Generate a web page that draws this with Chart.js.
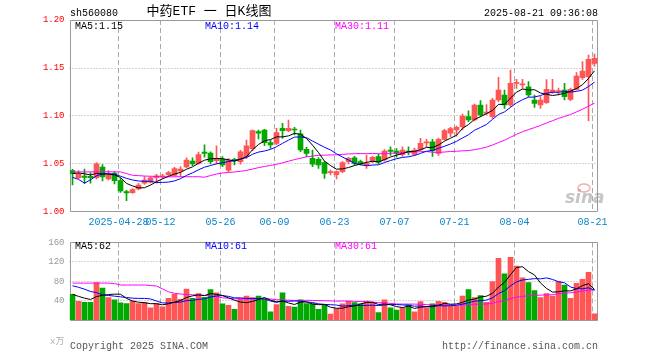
<!DOCTYPE html>
<html>
<head>
<meta charset="utf-8">
<script src="https://cdn.jsdelivr.net/npm/chart.js@4.4.1/dist/chart.umd.min.js"></script>
<style>
  html, body { margin: 0; padding: 0; background: #fff; }
  #wrap { position: relative; width: 660px; height: 360px; }
  #wrap canvas { position: absolute; left: 0; }
</style>
</head>
<body>
<div id="wrap">
  <canvas id="kline" width="660" height="232" style="top:0"></canvas>
  <canvas id="vol" width="660" height="128" style="top:232px"></canvas>
</div>
<script>
// trading days shown (2025)
const dates = [
  '04-16','04-17','04-18','04-21','04-22','04-23','04-24','04-25','04-28','04-29',
  '04-30','05-06','05-07','05-08','05-09','05-12','05-13','05-14','05-15','05-16',
  '05-19','05-20','05-21','05-22','05-23','05-26','05-27','05-28','05-29','05-30',
  '06-03','06-04','06-05','06-06','06-09','06-10','06-11','06-12','06-13','06-16',
  '06-17','06-18','06-19','06-20','06-23','06-24','06-25','06-26','06-27','06-30',
  '07-01','07-02','07-03','07-04','07-07','07-08','07-09','07-10','07-11','07-14',
  '07-15','07-16','07-17','07-18','07-21','07-22','07-23','07-24','07-25','07-28',
  '07-29','07-30','07-31','08-01','08-04','08-05','08-06','08-07','08-08','08-11',
  '08-12','08-13','08-14','08-15','08-18','08-19','08-20','08-21'
];

const open = [
  1.0431, 1.0358, 1.0375, 1.0372, 1.0358, 1.0469, 1.0344, 1.0403, 1.0326, 1.0212,
  1.0201, 1.0240, 1.0300, 1.0310, 1.0358, 1.0365, 1.0389, 1.0382, 1.0427, 1.0469,
  1.0531, 1.0507, 1.0625, 1.0615, 1.0535, 1.0549, 1.0437, 1.0549, 1.0524, 1.0576,
  1.0660, 1.0837, 1.0854, 1.0722, 1.0715, 1.0872, 1.0847, 1.0861, 1.0813, 1.0653,
  1.0559, 1.0549, 1.0514, 1.0410, 1.0389, 1.0420, 1.0524, 1.0565, 1.0524, 1.0490,
  1.0524, 1.0576, 1.0542, 1.0645, 1.0635, 1.0600, 1.0635, 1.0600, 1.0653, 1.0720,
  1.0732, 1.0611, 1.0757, 1.0820, 1.0854, 1.0889, 1.0993, 1.0958, 1.1115, 1.1028,
  1.0993, 1.1167, 1.1219, 1.1115, 1.1340, 1.1325, 1.1305, 1.1167, 1.1115, 1.1139,
  1.1253, 1.1255, 1.1271, 1.1174, 1.1278, 1.1399, 1.1410, 1.1549
];
const high = [
  1.0444, 1.0431, 1.0448, 1.0410, 1.0514, 1.0493, 1.0431, 1.0420, 1.0351, 1.0226,
  1.0243, 1.0299, 1.0368, 1.0368, 1.0392, 1.0392, 1.0424, 1.0465, 1.0472, 1.0563,
  1.0563, 1.0625, 1.0700, 1.0628, 1.0688, 1.0576, 1.0556, 1.0559, 1.0642, 1.0750,
  1.0854, 1.0854, 1.0861, 1.0750, 1.0872, 1.0924, 1.0958, 1.0882, 1.0854, 1.0674,
  1.0646, 1.0566, 1.0524, 1.0437, 1.0430, 1.0524, 1.0570, 1.0580, 1.0540, 1.0594,
  1.0580, 1.0600, 1.0650, 1.0680, 1.0660, 1.0680, 1.0680, 1.0665, 1.0767, 1.0757,
  1.0757, 1.0770, 1.0861, 1.0882, 1.0896, 1.1020, 1.1055, 1.1125, 1.1160, 1.1120,
  1.1184, 1.1403, 1.1271, 1.1479, 1.1382, 1.1382, 1.1358, 1.1219, 1.1201, 1.1380,
  1.1382, 1.1290, 1.1340, 1.1290, 1.1451, 1.1566, 1.1635, 1.1646
];
const low = [
  1.0281, 1.0347, 1.0299, 1.0300, 1.0344, 1.0323, 1.0333, 1.0292, 1.0205, 1.0118,
  1.0194, 1.0229, 1.0288, 1.0302, 1.0300, 1.0351, 1.0378, 1.0375, 1.0368, 1.0462,
  1.0483, 1.0497, 1.0570, 1.0500, 1.0500, 1.0472, 1.0420, 1.0490, 1.0497, 1.0559,
  1.0640, 1.0760, 1.0690, 1.0663, 1.0698, 1.0767, 1.0837, 1.0802, 1.0628, 1.0576,
  1.0472, 1.0455, 1.0351, 1.0385, 1.0344, 1.0410, 1.0500, 1.0490, 1.0490, 1.0455,
  1.0515, 1.0500, 1.0530, 1.0590, 1.0570, 1.0580, 1.0594, 1.0590, 1.0640, 1.0680,
  1.0580, 1.0590, 1.0750, 1.0785, 1.0790, 1.0854, 1.0940, 1.0950, 1.0993, 1.1015,
  1.0976, 1.1149, 1.1080, 1.1097, 1.1288, 1.1288, 1.1201, 1.1090, 1.1080, 1.1130,
  1.1236, 1.1220, 1.1167, 1.1160, 1.1270, 1.1382, 1.0951, 1.1520
];
const close = [
  1.0399, 1.0392, 1.0361, 1.0358, 1.0503, 1.0365, 1.0382, 1.0326, 1.0219, 1.0198,
  1.0233, 1.0281, 1.0333, 1.0357, 1.0378, 1.0378, 1.0410, 1.0451, 1.0448, 1.0542,
  1.0500, 1.0597, 1.0610, 1.0524, 1.0555, 1.0490, 1.0542, 1.0535, 1.0628, 1.0688,
  1.0847, 1.0820, 1.0722, 1.0698, 1.0826, 1.0847, 1.0872, 1.0854, 1.0646, 1.0611,
  1.0497, 1.0490, 1.0403, 1.0420, 1.0420, 1.0514, 1.0559, 1.0507, 1.0500, 1.0507,
  1.0570, 1.0520, 1.0635, 1.0630, 1.0610, 1.0646, 1.0625, 1.0646, 1.0715, 1.0732,
  1.0640, 1.0757, 1.0847, 1.0868, 1.0882, 1.1000, 1.0958, 1.1115, 1.1010, 1.1042,
  1.1167, 1.1271, 1.1115, 1.1340, 1.1345, 1.1335, 1.1219, 1.1132, 1.1167, 1.1278,
  1.1271, 1.1265, 1.1201, 1.1278, 1.1417, 1.1469, 1.1590, 1.1600
];
// 成交量（万手）
const volume = [
  53, 38.6, 36.5, 36.5, 77, 65.7, 46.3, 41.4, 35.4, 33.8,
  39, 33.8, 36.5, 25.2, 33.8, 27.3, 44.6, 53.2, 42.5, 64,
  44.6, 54.4, 46.8, 62.5, 56, 33.3, 30, 21.9, 44, 49.5,
  46.3, 49.5, 42.5, 17, 31.7, 56, 28.4, 26.8, 41.4, 33.8,
  33.8, 21.9, 30, 12.2, 23.5, 33.3, 39, 36, 33.3, 39,
  36, 15.4, 41.4, 25.2, 20.3, 25.2, 31.7, 17, 38, 25.2,
  33.3, 38.6, 36.5, 28.9, 28.4, 49.5, 62.5, 46.3, 50.6, 36.5,
  79.2, 127.4, 95, 129, 111, 86.8, 77, 60.9, 46.3, 54.4,
  49.5, 79.2, 72.2, 44.6, 75.5, 83.6, 98.2, 12.7
];

// earlier sessions (off the left edge), only used so the moving averages start where the picture's do
const prevClose = [
  1.040, 1.036, 1.034, 1.049, 1.038, 1.037, 1.034, 1.023, 1.072, 1.076,
  1.040, 1.045, 1.042, 1.048, 1.046, 1.044, 1.041, 1.043, 1.054, 1.050,
  1.060, 1.076, 1.000, 1.010, 1.015, 1.036, 1.040, 1.042, 1.042
];
const prevVolume = [
  40, 36, 37, 76, 66, 46, 71, 125, 34, 39,
  34, 37, 55, 64, 207, 225, 143, 88, 94, 60,
  70, 75, 85, 100, 111, 60, 55, 50, 47
];

const tickDates  = ['04-28', '05-12', '05-26', '06-09', '06-23', '07-07', '07-21', '08-04', '08-21'];
const tickLabels = ['2025-04-28', '05-12', '05-26', '06-09', '06-23', '07-07', '07-21', '08-04', '08-21'];
const priceTicks = [1.00, 1.05, 1.10, 1.15, 1.20];
const volTicks   = [0, 40, 80, 120, 160];

const RED = '#ff5555';
const GREEN = '#00a800';
const GRID = '#aaaaaa';
const BORDER = '#999999';
const DATE_BLUE = '#0a84cc';
const MONO = '"Liberation Mono", "DejaVu Sans Mono", monospace';

Chart.defaults.font.family = MONO;
Chart.defaults.font.size = 10;
Chart.defaults.animation = false;

function movingAvg(prev, vals, n) {
  const all = prev.concat(vals);
  return vals.map((_, i) => {
    const end = prev.length + i + 1;
    let s = 0;
    for (let k = end - n; k < end; k++) s += all[k];
    return s / n;
  });
}

const ma5 = movingAvg(prevClose, close, 5);
const ma10 = movingAvg(prevClose, close, 10);
const ma30 = movingAvg(prevClose, close, 30);
const vma5 = movingAvg(prevVolume, volume, 5);
const vma10 = movingAvg(prevVolume, volume, 10);
const vma30 = movingAvg(prevVolume, volume, 30);

const candleColors = close.map((c, i) => c >= open[i] ? RED : GREEN);
const tickIdx = tickDates.map(d => dates.indexOf(d));
const last = dates.length - 1;

// grid lines + frame, drawn under the marks
const frame = {
  id: 'frame',
  beforeDatasetsDraw(chart, args, opts) {
    const { ctx, chartArea: a, scales: { x, y } } = chart;
    ctx.save();
    ctx.lineWidth = 1;
    ctx.strokeStyle = GRID;
    ctx.setLineDash([1, 2]);
    opts.hLines.forEach(v => {
      const py = Math.floor(y.getPixelForValue(v)) + 0.5;
      ctx.beginPath(); ctx.moveTo(a.left, py); ctx.lineTo(a.right, py); ctx.stroke();
    });
    ctx.setLineDash([5, 3]);
    tickIdx.forEach(i => {
      const px = Math.floor(x.getPixelForValue(i) - 2) + 0.5;
      ctx.beginPath(); ctx.moveTo(px, a.top); ctx.lineTo(px, a.bottom); ctx.stroke();
    });
    ctx.setLineDash([]);
    ctx.strokeStyle = BORDER;
    const l = Math.ceil(a.left) + 0.5, r = Math.floor(a.right) + 0.5;
    const t = Math.floor(a.top) + 0.5, b = Math.floor(a.bottom) + opts.bottomAdj;
    ctx.beginPath();
    ctx.moveTo(l, t); ctx.lineTo(r, t); ctx.lineTo(r, b); ctx.lineTo(l, b); ctx.closePath();
    ctx.stroke();
    ctx.restore();
  }
};

const labels = {
  id: 'labels',
  afterDraw(chart, args, opts) {
    const ctx = chart.ctx;
    ctx.save();
    ctx.textBaseline = 'middle';
    opts.items.forEach(t => {
      ctx.font = t.font || '10px ' + MONO;
      ctx.fillStyle = t.color || '#000';
      ctx.textAlign = t.align || 'left';
      ctx.fillText(t.text, t.x, t.y);
    });
    if (opts.logo) {
      ctx.fillStyle = 'rgba(150,150,150,0.55)';
      ctx.font = 'italic bold 17px "DejaVu Sans"';
      ctx.textAlign = 'left';
      ctx.fillText('sina', 565, 199);
      ctx.strokeStyle = 'rgba(235,120,120,0.6)';
      ctx.lineWidth = 1.5;
      ctx.beginPath();
      ctx.ellipse(584, 188, 6, 4, 0, 0, Math.PI * 2);
      ctx.stroke();
    }
    ctx.restore();
  }
};

function xScale(showTicks) {
  return {
    type: 'category',
    offset: true,
    display: showTicks,
    grid: { display: false, drawTicks: false },
    border: { display: false },
    ticks: {
      autoSkip: false,
      maxRotation: 0,
      padding: 4,
      labelOffset: -2,
      color: DATE_BLUE,
      callback: (v, i) => {
        const t = tickDates.indexOf(dates[i]);
        return t < 0 ? null : tickLabels[t];
      }
    },
    afterFit: s => { s.height = 20; }
  };
}

new Chart(document.getElementById('kline'), {
  data: {
    labels: dates,
    datasets: [
      { type: 'line', data: ma5, borderColor: '#000000', borderWidth: 1, pointRadius: 0, order: 0 },
      { type: 'line', data: ma10, borderColor: '#0000ff', borderWidth: 1, pointRadius: 0, order: 0 },
      { type: 'line', data: ma30, borderColor: '#ff00ff', borderWidth: 1, pointRadius: 0, order: 0 },
      { type: 'bar', data: open.map((o, i) => [o, close[i]]), backgroundColor: candleColors,
        barThickness: 5, grouped: false, minBarLength: 1, order: 1 },
      { type: 'bar', data: low.map((l, i) => [l, high[i]]), backgroundColor: candleColors,
        barThickness: 1, grouped: false, order: 2 }
    ]
  },
  options: {
    responsive: false,
    layout: { padding: { top: 20, right: 62.5, left: 0, bottom: 0 } },
    plugins: {
      legend: { display: false },
      tooltip: { enabled: false },
      frame: { hLines: [1.05, 1.10, 1.15], bottomAdj: -0.5 },
      labels: {
        logo: true,
        items: [
          { text: 'sh560080', x: 70, y: 13 },
          { text: '中药ETF 一 日K线图', x: 209, y: 12, align: 'center',
            font: '13px "Liberation Mono", "Noto Sans CJK SC"' },
          { text: '2025-08-21 09:36:08', x: 598, y: 13, align: 'right' },
          { text: 'MA5:' + ma5[last].toFixed(2), x: 75, y: 26, color: '#000000' },
          { text: 'MA10:' + ma10[last].toFixed(2), x: 205, y: 26, color: '#0000ff' },
          { text: 'MA30:' + ma30[last].toFixed(2), x: 335, y: 26, color: '#ff00ff' }
        ]
      }
    },
    scales: {
      x: xScale(true),
      y: {
        min: 1.0,
        max: 1.2,
        afterBuildTicks: s => { s.ticks = priceTicks.map(v => ({ value: v })); },
        grid: { display: false, drawTicks: false },
        border: { display: false },
        ticks: { color: '#ff0000', padding: 5, font: { size: 9 }, callback: v => v.toFixed(2) },
        afterFit: s => { s.width = 69.5; }
      }
    }
  },
  plugins: [frame, labels]
});

new Chart(document.getElementById('vol'), {
  data: {
    labels: dates,
    datasets: [
      { type: 'line', data: vma5, borderColor: '#000000', borderWidth: 1, pointRadius: 0, order: 0 },
      { type: 'line', data: vma10, borderColor: '#0000ff', borderWidth: 1, pointRadius: 0, order: 0 },
      { type: 'line', data: vma30, borderColor: '#ff00ff', borderWidth: 1, pointRadius: 0, order: 0 },
      { type: 'bar', data: volume, backgroundColor: candleColors, barThickness: 5, order: 1 }
    ]
  },
  options: {
    responsive: false,
    layout: { padding: { top: 8, right: 62.5, left: 0, bottom: 20 } },
    plugins: {
      legend: { display: false },
      tooltip: { enabled: false },
      frame: { hLines: [40, 80, 120], bottomAdj: 0.5 },
      labels: {
        items: [
          { text: 'MA5:' + Math.floor(vma5[last]), x: 75, y: 14, color: '#000000' },
          { text: 'MA10:' + Math.floor(vma10[last]), x: 205, y: 14, color: '#0000ff' },
          { text: 'MA30:' + Math.floor(vma30[last]), x: 335, y: 14, color: '#ff00ff' },
          { text: 'x万', x: 50, y: 110, color: '#b0b0b0', font: '9px ' + MONO + ', "Noto Sans CJK SC"' },
          { text: 'Copyright 2025 SINA.COM', x: 70, y: 114, color: '#555555' },
          { text: 'http://finance.sina.com.cn', x: 598, y: 114, align: 'right', color: '#555555' }
        ]
      }
    },
    scales: {
      x: xScale(false),
      y: {
        min: 0,
        max: 160,
        afterBuildTicks: s => { s.ticks = volTicks.map(v => ({ value: v })); },
        grid: { display: false, drawTicks: false },
        border: { display: false },
        ticks: { color: '#999999', padding: 5, font: { size: 9 }, callback: v => v === 0 ? '' : v },
        afterFit: s => { s.width = 69.5; }
      }
    }
  },
  plugins: [frame, labels]
});
</script>
</body>
</html>
